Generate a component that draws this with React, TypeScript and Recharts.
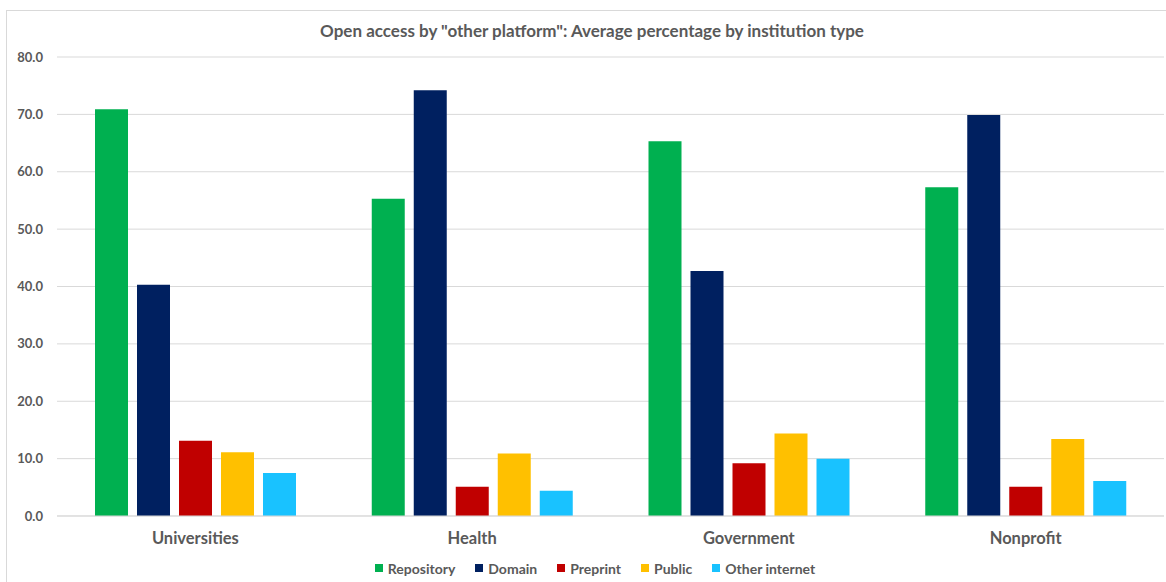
import { BarChart, Bar, XAxis, YAxis, CartesianGrid, Legend } from "recharts";

const institutions = ["Universities", "Health", "Government", "Nonprofit"];
const repository = [70.9, 55.3, 65.3, 57.3];
const domain = [40.3, 74.2, 42.7, 69.9];
const preprint = [13.1, 5.1, 9.2, 5.1];
const publicSite = [11.1, 10.9, 14.4, 13.4];
const otherInternet = [7.5, 4.4, 10.0, 6.1];
const yTicks = [0, 10, 20, 30, 40, 50, 60, 70, 80];

const series = [
  { key: "repository", name: "Repository", color: "#00b050" },
  { key: "domain", name: "Domain", color: "#002060" },
  { key: "preprint", name: "Preprint", color: "#c00000" },
  { key: "public", name: "Public", color: "#ffc000" },
  { key: "other", name: "Other internet", color: "#19c2ff" },
];

const data = institutions.map((name, i) => ({
  name,
  repository: repository[i],
  domain: domain[i],
  preprint: preprint[i],
  public: publicSite[i],
  other: otherInternet[i],
}));

const font = "Lato, 'Open Sans', sans-serif";
const grey = "#595959";

function LegendRow() {
  return (
    <div style={{ display: "flex", justifyContent: "center", height: 20, alignItems: "center", fontFamily: font, fontWeight: 700, fontSize: 14, color: grey, paddingLeft: 39 }}>
      {series.map((s) => (
        <span key={s.key} style={{ display: "flex", alignItems: "center", marginRight: 20 }}>
          <span style={{ width: 8, height: 8, background: s.color, marginRight: 5, display: "inline-block" }} />
          {s.name}
        </span>
      ))}
    </div>
  );
}

export default function App() {
  return (
    <div style={{ position: "absolute", left: 6, top: 10, width: 1170, height: 580, border: "1px solid #d9d9d9", background: "#fff" }}>
      <div style={{ position: "absolute", top: 9, left: 0, width: 1170, textAlign: "center", fontFamily: font, fontWeight: 700, fontSize: 17, color: grey }}>
        Open access by "other platform": Average percentage by institution type
      </div>
      <BarChart
        width={1168}
        height={578}
        data={data}
        margin={{ top: 46, right: 11, left: 0, bottom: 23 }}
        barSize={33}
        barGap={9}
      >
        <CartesianGrid vertical={false} stroke="#d9d9d9" />
        <XAxis
          dataKey="name"
          axisLine={{ stroke: "#d9d9d9" }}
          tickLine={false}
          tickSize={0}
          tickMargin={16}
          tick={{ fill: grey, fontSize: 16.5, fontWeight: 700, fontFamily: font }}
        />
        <YAxis
          width={50}
          domain={[0, 80]}
          ticks={yTicks}
          axisLine={false}
          tickLine={false}
          tickSize={0}
          tickMargin={14}
          tickFormatter={(v: number) => v.toFixed(1)}
          tick={{ fill: grey, fontSize: 13, fontWeight: 700, fontFamily: font }}
        />
        <Legend
          verticalAlign="bottom"
          wrapperStyle={{ bottom: 11 }}
          content={() => <LegendRow />}
        />
        {series.map((s) => (
          <Bar key={s.key} dataKey={s.key} name={s.name} fill={s.color} isAnimationActive={false} />
        ))}
      </BarChart>
    </div>
  );
}
